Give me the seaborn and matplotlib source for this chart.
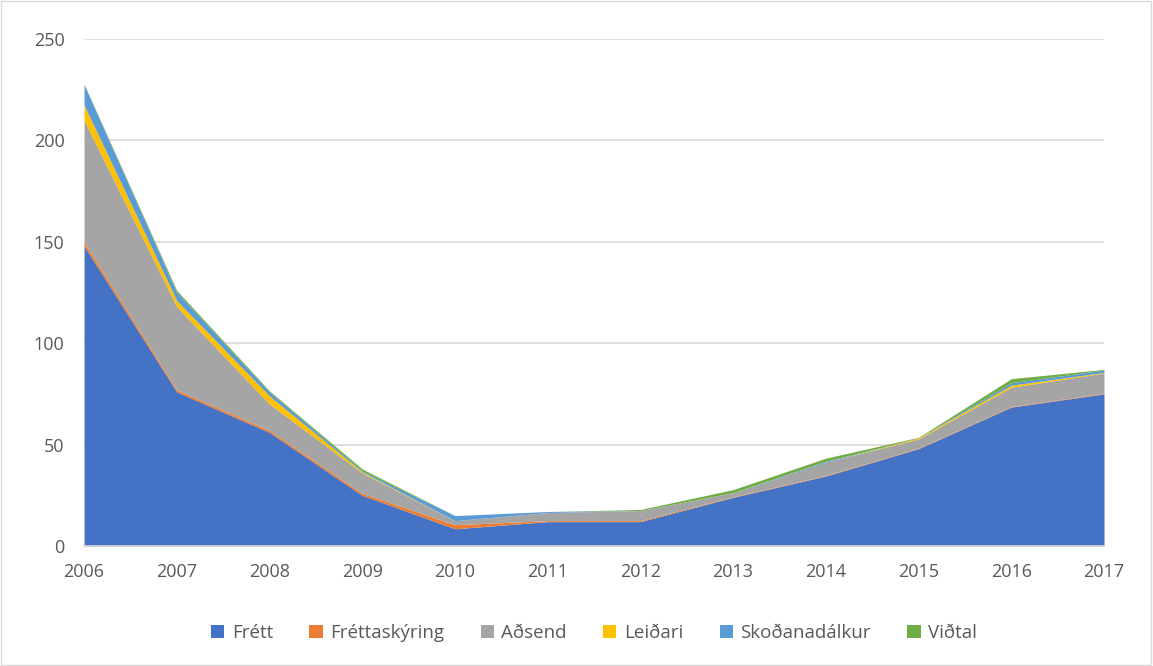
import matplotlib
matplotlib.use("Agg")
import matplotlib.pyplot as plt
import seaborn as sns
import pandas as pd

years = [2006, 2007, 2008, 2009, 2010, 2011, 2012, 2013, 2014, 2015, 2016, 2017]
frett = [148, 76, 56, 25, 8.5, 12, 12, 24, 34.5, 48, 68.5, 75]
frettaskyring = [2, 1, 1, 1, 2, 0.5, 0.5, 0.3, 0.3, 0.3, 0.3, 0.3]
adsend = [60, 41, 13, 10, 2, 4, 5, 2, 6.5, 4.5, 9.5, 10]
leidari = [7.5, 3, 4, 0.5, 0, 0, 0, 0, 0, 0.5, 1, 0.3]
skodanadalkur = [10, 4, 2, 0.5, 2.5, 0.5, 0, 0, 0.5, 0, 1.2, 1.2]
vidtal = [0.3, 1, 0.5, 1, 0, 0, 0.5, 1.5, 1.5, 0.3, 2, 0.3]
series_names = ["Frétt", "Fréttaskýring", "Aðsend", "Leiðari", "Skoðanadálkur", "Viðtal"]
colors = ["#4472C4", "#ED7D31", "#A5A5A5", "#FFC000", "#5B9BD5", "#70AD47"]

df = pd.DataFrame({"Ár": years, "Frétt": frett, "Fréttaskýring": frettaskyring,
                   "Aðsend": adsend, "Leiðari": leidari,
                   "Skoðanadálkur": skodanadalkur, "Viðtal": vidtal})

sns.set_style("white")
plt.rcParams["font.family"] = ["Open Sans", "DejaVu Sans"]

fig = plt.figure(figsize=(11.53, 6.66), dpi=100)
ax = fig.add_axes([0.0729, 0.1802, 0.8846, 0.7612])
ax.stackplot(df["Ár"], [df[c] for c in series_names], labels=series_names,
             colors=colors, linewidth=0)

ax.set_xlim(2006, 2017)
ax.set_ylim(0, 250)
ax.set_yticks(range(0, 251, 50))
ax.set_xticks(years)
ax.yaxis.grid(True, color="#D9D9D9", linewidth=1.2)
ax.set_axisbelow(True)
for s in ["top", "right", "left"]:
    ax.spines[s].set_visible(False)
ax.spines["bottom"].set_color("#D9D9D9")
ax.spines["bottom"].set_linewidth(1.2)
ax.tick_params(axis="x", colors="#D9D9D9", length=6, width=1.2, labelcolor="#595959",
               labelsize=13, pad=6, direction="out")
ax.tick_params(axis="y", length=0, labelcolor="#595959", labelsize=13, pad=14)

leg = ax.legend(loc="upper center", bbox_to_anchor=(0.5, -0.12), ncol=6, frameon=False,
                fontsize=13.5, handlelength=0.7, handleheight=0.7, handletextpad=0.4,
                columnspacing=1.95)
for t in leg.get_texts():
    t.set_color("#595959")

fig.patches.append(plt.Rectangle((0.001, 0.001), 0.997, 0.997, transform=fig.transFigure,
                                 fill=False, edgecolor="#D9D9D9", linewidth=1))
fig.savefig("out.png", dpi=100)
